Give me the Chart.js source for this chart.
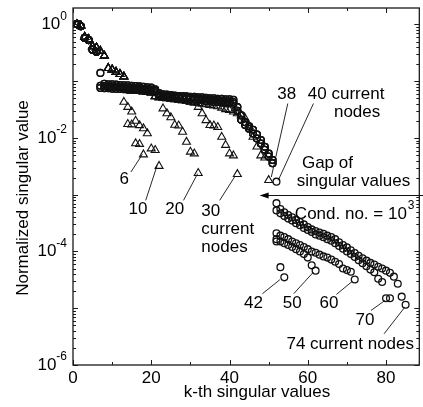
<!DOCTYPE html>
<html>
<head>
<meta charset="utf-8">
<script src="https://cdn.jsdelivr.net/npm/chart.js@4.4.0/dist/chart.umd.min.js"></script>
<style>
html, body { margin: 0; padding: 0; background: #fff; overflow: hidden; }
</style>
</head>
<body>
<canvas id="sv" width="425" height="407"></canvas>
<script>
// axis labels
const kTicks = [0, 20, 40, 60, 80];
const decadeLabels = [0, -2, -4, -6];

// circle runs (40..74 current nodes), value of k-th singular value, k = 1, 2, ...
const headCircle = [1.03, 0.93, 0.58, 0.53, 0.36, 0.33];                 // k 1..6
const bandUpper = [0.14, 0.090, 0.088, 0.088, 0.087, 0.086, 0.085, 0.085, 0.083, 0.082,
  0.081, 0.080, 0.078, 0.077, 0.072, 0.062, 0.059, 0.058, 0.057, 0.056,
  0.055, 0.055, 0.054, 0.053, 0.053, 0.052, 0.052, 0.051, 0.050, 0.050,
  0.049, 0.049, 0.048, 0.048, 0.047];                                     // k 7..41
const bandMid = [0.083, 0.082, 0.081, 0.080, 0.079, 0.079, 0.078, 0.077, 0.076, 0.075,
  0.074, 0.073, 0.072, 0.071, 0.068, 0.058, 0.056, 0.055, 0.054, 0.053,
  0.052, 0.052, 0.051, 0.050, 0.050, 0.049, 0.048, 0.048, 0.047, 0.046,
  0.046, 0.045, 0.044, 0.044, 0.043];                                     // k 7..41
const bandLower = [0.076, 0.075, 0.075, 0.074, 0.073, 0.073, 0.072, 0.071, 0.071, 0.070,
  0.069, 0.068, 0.067, 0.066, 0.064, 0.055, 0.054, 0.053, 0.052, 0.051,
  0.050, 0.050, 0.049, 0.048, 0.047, 0.046, 0.046, 0.045, 0.044, 0.043,
  0.043, 0.042, 0.041, 0.041, 0.040];                                     // k 7..41
const dropUpper = [0.035, 0.025, 0.019, 0.016, 0.014, 0.0115, 0.0092, 0.0070, 0.0053, 0.0041]; // k 42..51
const dropLower = [0.030, 0.021, 0.017, 0.0145, 0.012, 0.0098, 0.0080, 0.0062, 0.0047, 0.0036];
const tail40 = [0.0017];
const tail42 = [1.5e-4, 5.3e-5, 3.5e-5];
const tail50 = [1.65e-4, 1.5e-4, 1.4e-4, 1.3e-4, 1.2e-4, 1.1e-4, 1.0e-4, 9.0e-5, 7.8e-5, 5.7e-5, 4.6e-5];
const tail60 = [2.1e-4, 1.9e-4, 1.8e-4, 1.65e-4, 1.5e-4, 1.4e-4, 1.3e-4, 1.2e-4, 1.1e-4, 1.0e-4,
  9.5e-5, 8.8e-5, 8.2e-5, 7.8e-5, 7.2e-5, 6.6e-5, 6.0e-5, 5.0e-5, 4.7e-5, 4.4e-5, 3.2e-5];
const tail70 = [5.3e-4, 4.7e-4, 4.2e-4, 3.8e-4, 3.5e-4, 3.15e-4, 2.9e-4, 2.6e-4, 2.4e-4, 2.2e-4,
  2.0e-4, 1.9e-4, 1.78e-4, 1.65e-4, 1.55e-4, 1.4e-4, 1.25e-4, 1.12e-4, 1.0e-4, 9.0e-5,
  8.0e-5, 7.0e-5, 6.2e-5, 5.5e-5, 4.8e-5, 4.3e-5, 3.3e-5, 2.9e-5, 1.5e-5, 1.5e-5];
const tail74 = [7.1e-4, 5.6e-4, 4.9e-4, 4.4e-4, 4.0e-4, 3.6e-4, 3.3e-4, 3.0e-4, 2.7e-4, 2.45e-4,
  2.3e-4, 2.15e-4, 2.05e-4, 1.9e-4, 1.8e-4, 1.65e-4, 1.45e-4, 1.3e-4, 1.18e-4, 1.05e-4,
  9.4e-5, 8.4e-5, 7.6e-5, 6.9e-5, 6.3e-5, 5.9e-5, 5.4e-5, 5.0e-5, 4.6e-5, 4.2e-5,
  3.6e-5, 2.7e-5, 1.6e-5, 1.15e-5];

// triangle runs (6..38 current nodes)
const headTri = [1.0, 0.95, 0.6, 0.55, 0.41, 0.39, 0.34, 0.28, 0.17, 0.16, 0.145, 0.133, 0.12]; // k 1..13
const triBand = [0.070, 0.069, 0.068, 0.067, 0.066, 0.065, 0.063, 0.054, 0.052, 0.051,
  0.050, 0.049, 0.048, 0.047, 0.046, 0.045, 0.043, 0.042, 0.041, 0.040,
  0.039, 0.038, 0.037, 0.036, 0.035, 0.034, 0.033, 0.032];               // k 14..41
const tail6 = [0.0175, 0.0172, 0.0080, 0.0078, 0.0051];                  // k 14..18
const tail10 = [0.043, 0.035, 0.029, 0.020, 0.0167, 0.0147, 0.012, 0.0065, 0.0061, 0.0032]; // k 13..22
const tail20 = [0.033, 0.027, 0.023, 0.0170, 0.0165, 0.0128, 0.0085, 0.0057, 0.0053, 0.0024]; // k 23..32
const tail30 = [0.035, 0.027, 0.0205, 0.0168, 0.0165, 0.0155, 0.0104, 0.0075, 0.0053, 0.0049, 0.0023]; // k 32..42
const tail38 = [0.034, 0.032, 0.031, 0.029, 0.027, 0.025, 0.022, 0.016, 0.0104, 0.0070, 0.0049, 0.0045, 0.0018]; // k 38..50

const n40 = [...headCircle, ...bandUpper, ...dropUpper, ...tail40];
const n42 = [...headCircle, ...bandLower, ...dropLower, ...tail42];
const n50 = [...headCircle, ...bandMid, ...dropLower, ...tail50];
const n60 = [...headCircle, ...bandLower, ...dropUpper, ...tail60];
const n70 = [...headCircle, ...bandMid, ...dropLower, ...tail70];
const n74 = [...headCircle, ...bandUpper, ...dropUpper, ...tail74];

const t6 = [...headTri, ...tail6];
const t10 = [...headTri.slice(0, 12), ...tail10];
const t20 = [...headTri, ...triBand.slice(0, 9), ...tail20];
const t30 = [...headTri, ...triBand.slice(0, 18), ...tail30];
const t38 = [...headTri, ...triBand.slice(0, 24), ...tail38];

// annotations: text at (k, log10 value)
const notes = [
  {t: '6', k: 13.1, e: -2.728},
  {t: '10', k: 16.6, e: -3.258},
  {t: '20', k: 26.0, e: -3.258},
  {t: '30', k: 32.8, e: -3.293, left: true},
  {t: 'current', k: 32.8, e: -3.611, left: true},
  {t: 'nodes', k: 32.8, e: -3.928, left: true},
  {t: '38', k: 54.6, e: -1.229},
  {t: '40 current', k: 69.8, e: -1.229},
  {t: 'nodes', k: 72.6, e: -1.547},
  {t: 'Gap of', k: 58.5, e: -2.455, left: true},
  {t: 'singular values', k: 57.2, e: -2.772, left: true},
  {t: 'Cond. no. = 10', k: 56.7, e: -3.337, left: true, sup: '3'},
  {t: '42', k: 46.1, e: -4.915},
  {t: '50', k: 56.0, e: -4.915},
  {t: '60', k: 65.4, e: -4.915},
  {t: '70', k: 74.6, e: -5.215},
  {t: '74 current nodes', k: 70.85, e: -5.63}
];
const leaders = [
  [14.80, -2.600, 17.73, -2.288],
  [18.58, -3.099, 21.51, -2.482],
  [28.24, -3.099, 31.85, -2.628],
  [37.49, -3.099, 41.28, -2.688],
  [54.89, -1.393, 50.68, -2.688],
  [61.45, -1.393, 52.45, -2.746],
  [48.41, -4.744, 52.87, -4.497],
  [56.40, -4.744, 61.45, -4.363],
  [67.32, -4.757, 71.36, -4.527],
  [76.15, -5.039, 79.75, -4.862],
  [79.50, -5.450, 84.80, -4.981]
];
const gapArrow = {from: 90, to: 47.7, e: -3.01};

const FONT = '"Liberation Sans", Arial, sans-serif';

function pts(values) {
  return values.map((v, i) => ({x: i + 1, y: v}));
}

function circles(values) {
  return {data: pts(values), pointStyle: 'circle', pointRadius: 3.4, pointBorderWidth: 1.3,
    pointBorderColor: '#111', pointBackgroundColor: 'rgba(255,255,255,0)', showLine: false};
}
function triangles(values) {
  return {data: pts(values), pointStyle: 'triangle', pointRadius: 4.6, pointBorderWidth: 1.1,
    pointBorderColor: '#111', pointBackgroundColor: 'rgba(255,255,255,0)', showLine: false};
}

const decorations = {
  id: 'decorations',
  afterDatasetsDraw(chart) {
    const {ctx, chartArea: a, scales: {x, y}} = chart;
    const X = k => x.getPixelForValue(k);
    const Y = e => y.getPixelForValue(Math.pow(10, e));
    ctx.save();

    // frame and inward ticks
    ctx.strokeStyle = '#1a1a1a';
    ctx.lineWidth = 1.3;
    ctx.strokeRect(a.left, a.top, a.right - a.left, a.bottom - a.top);
    ctx.lineWidth = 1;
    ctx.beginPath();
    for (let k = 0; k <= x.max; k += 10) {
      const px = Math.round(X(k)) + 0.5, len = k % 20 ? 3 : 5;
      ctx.moveTo(px, a.bottom); ctx.lineTo(px, a.bottom - len);
      ctx.moveTo(px, a.top); ctx.lineTo(px, a.top + len);
    }
    for (let e = -6; e <= 0; e++) {
      for (let m = 1; m <= 9; m++) {
        const v = m * Math.pow(10, e);
        if (v > y.max) break;
        const py = Math.round(y.getPixelForValue(v)) + 0.5, len = m === 1 ? 5 : 3;
        ctx.moveTo(a.left, py); ctx.lineTo(a.left + len, py);
        ctx.moveTo(a.right, py); ctx.lineTo(a.right - len, py);
      }
    }
    ctx.stroke();

    ctx.fillStyle = '#000';
    ctx.textBaseline = 'middle';

    // x tick labels
    ctx.font = '17px ' + FONT;
    ctx.textAlign = 'center';
    kTicks.forEach(k => ctx.fillText(String(k), X(k), a.bottom + 13));

    // y tick labels 10^n
    decadeLabels.forEach(e => {
      const py = Y(e);
      ctx.font = '12px ' + FONT;
      const sup = e === 0 ? '0' : '-' + (-e);
      const ws = ctx.measureText(sup).width;
      ctx.textAlign = 'left';
      ctx.fillText(sup, a.left - 6 - ws, py - 8);
      ctx.font = '17px ' + FONT;
      ctx.textAlign = 'right';
      ctx.fillText('10', a.left - 6 - ws, py);
    });

    // axis titles
    ctx.font = '17px ' + FONT;
    ctx.textAlign = 'center';
    ctx.fillText('k-th singular values', a.left + 184, a.bottom + 27);
    ctx.save();
    ctx.translate(23.5, a.top + 190);
    ctx.rotate(-Math.PI / 2);
    ctx.fillText('Normalized singular value', 0, 0);
    ctx.restore();

    // annotations
    notes.forEach(n => {
      ctx.font = '17px ' + FONT;
      ctx.textAlign = n.left ? 'left' : 'center';
      const px = X(n.k), py = Y(n.e);
      ctx.fillText(n.t, px, py);
      if (n.sup) {
        const w = ctx.measureText(n.t).width;
        ctx.font = '12px ' + FONT;
        ctx.textAlign = 'left';
        ctx.fillText(n.sup, px + w + 1, py - 8);
      }
    });

    ctx.strokeStyle = '#111';
    ctx.lineWidth = 0.9;
    ctx.beginPath();
    leaders.forEach(([k1, e1, k2, e2]) => {
      ctx.moveTo(X(k1), Y(e1));
      ctx.lineTo(X(k2), Y(e2));
    });
    ctx.stroke();

    // gap arrow
    const ay = Math.round(Y(gapArrow.e)) + 0.5, ax = X(gapArrow.to);
    ctx.lineWidth = 1.2;
    ctx.beginPath();
    ctx.moveTo(X(gapArrow.from), ay);
    ctx.lineTo(ax + 6, ay);
    ctx.stroke();
    ctx.beginPath();
    ctx.moveTo(ax, ay);
    ctx.lineTo(ax + 9, ay - 3);
    ctx.lineTo(ax + 9, ay + 3);
    ctx.closePath();
    ctx.fill();

    ctx.restore();
  }
};

new Chart(document.getElementById('sv'), {
  type: 'scatter',
  data: {
    datasets: [
      circles(n74), circles(n70), circles(n60), circles(n50), circles(n42), circles(n40),
      triangles(t38), triangles(t30), triangles(t20), triangles(t10), triangles(t6)
    ]
  },
  options: {
    responsive: false,
    animation: false,
    devicePixelRatio: 1,
    layout: {padding: {left: 73, right: 1, top: 8, bottom: 42}},
    plugins: {legend: {display: false}, tooltip: {enabled: false}},
    scales: {
      x: {type: 'linear', min: 0, max: 88.5, display: false},
      y: {type: 'logarithmic', min: 1e-6, max: 1.95, display: false}
    }
  },
  plugins: [decorations]
});
</script>
</body>
</html>
